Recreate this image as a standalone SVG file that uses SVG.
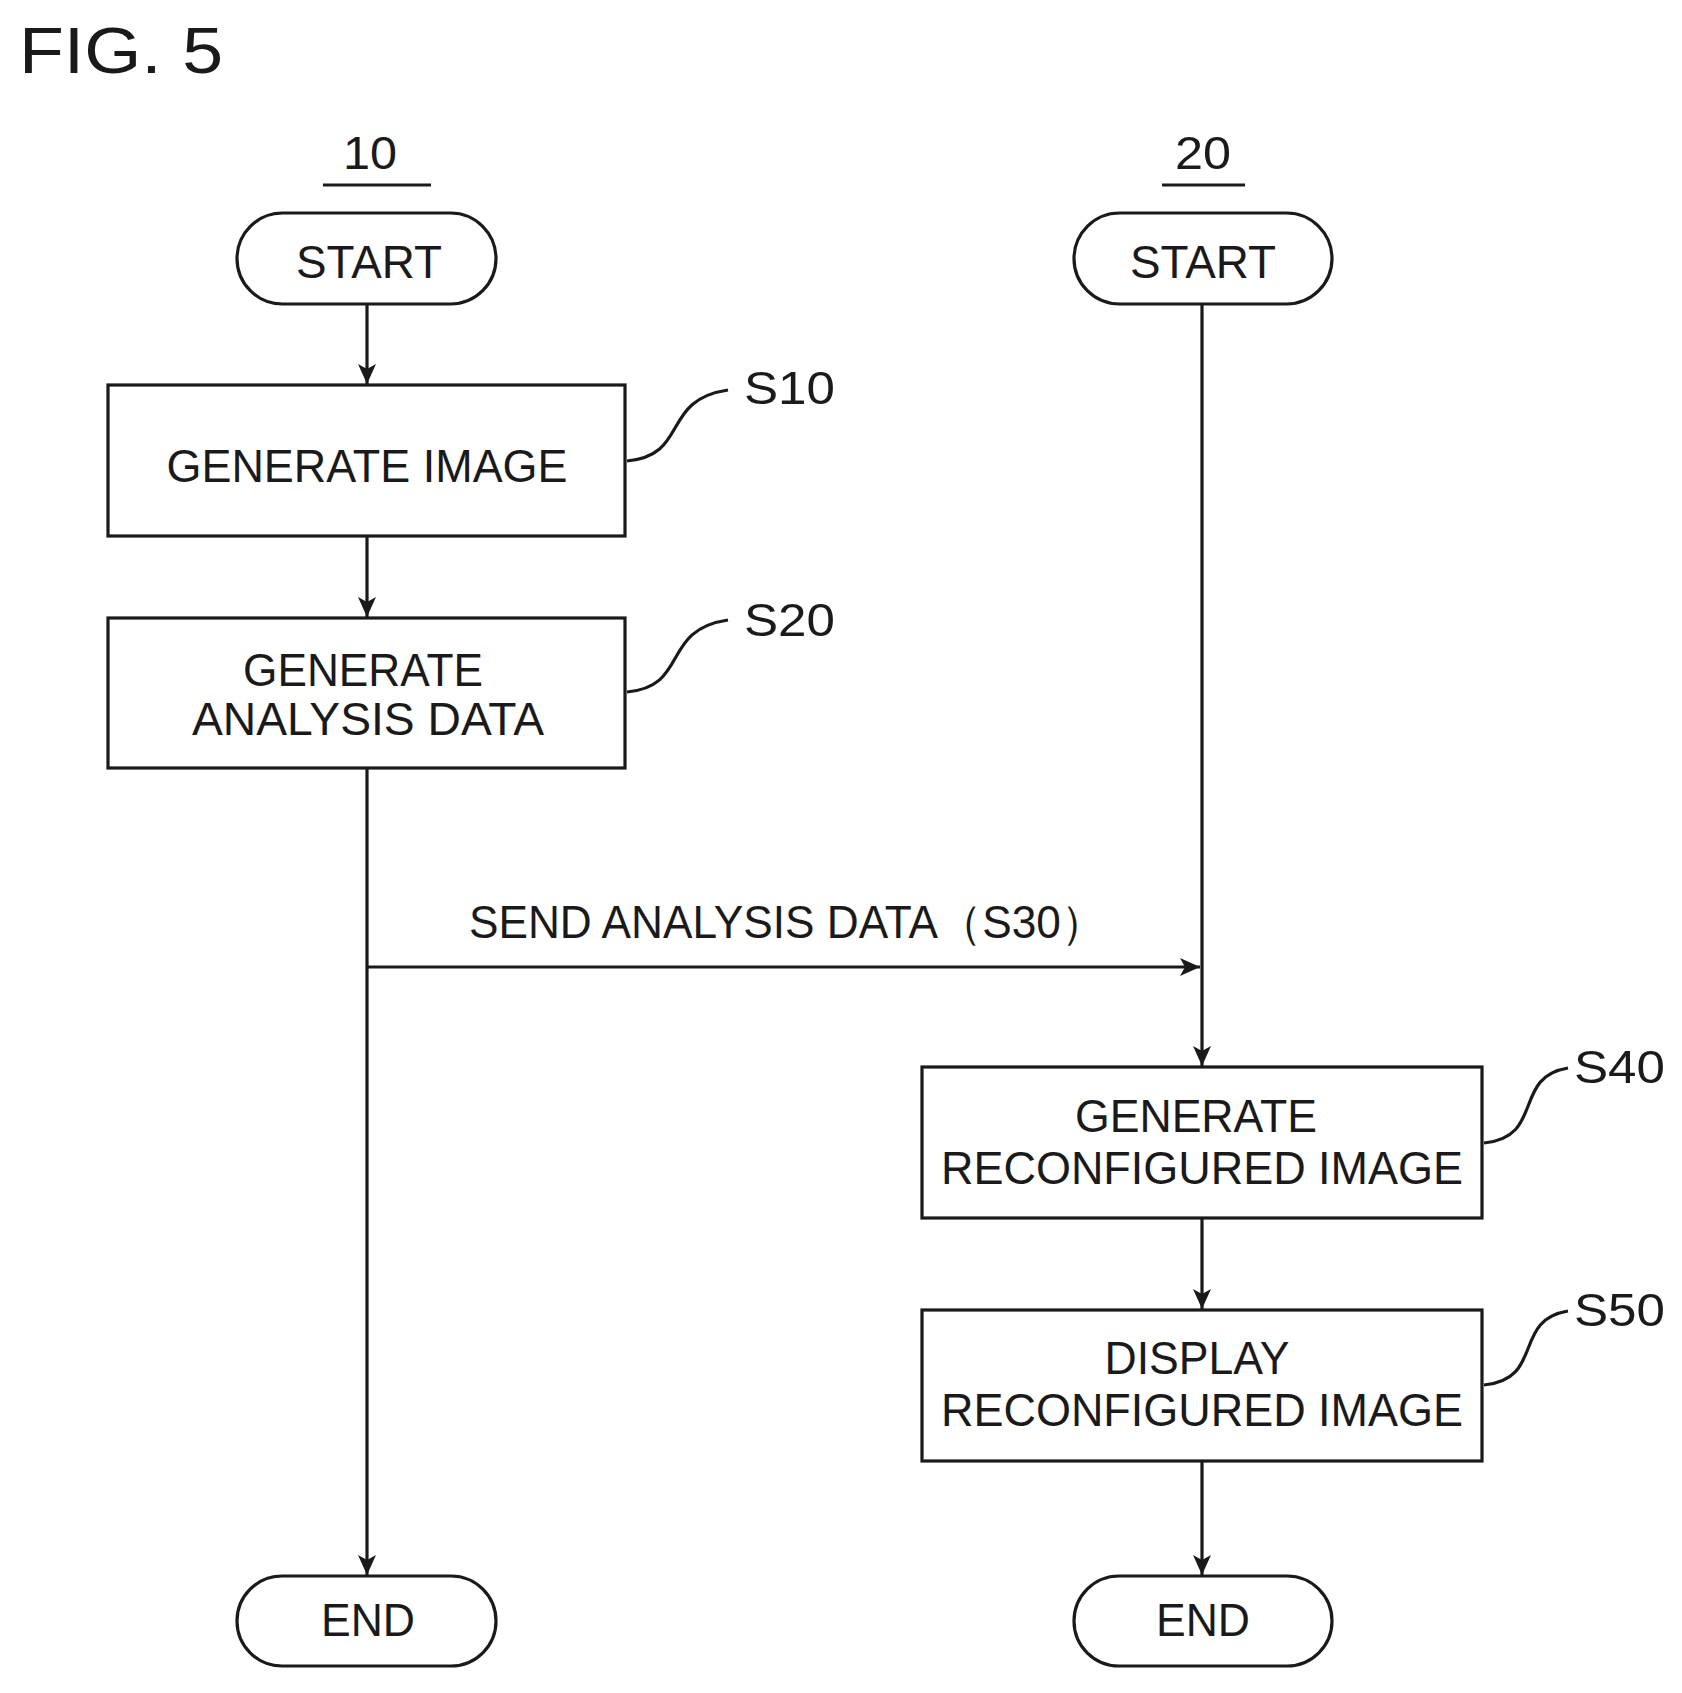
<svg xmlns="http://www.w3.org/2000/svg" width="1682" height="1693" viewBox="0 0 1682 1693">
<style>
.s{fill:none;stroke:#1a1a1a;stroke-width:3.2}
text{font-family:"Liberation Sans",Arial,sans-serif;fill:#1a1a1a;font-size:46px}
.c{text-anchor:middle}
.fig{font-size:64px}
</style>
<defs>
<marker id="a" markerUnits="userSpaceOnUse" markerWidth="24" markerHeight="24" refX="22" refY="12" orient="auto">
<path d="M2,3 L22,12 L2,21 L7,12 Z" fill="#1a1a1a"/>
</marker>
</defs>
<rect width="1682" height="1693" fill="#fff"/>
<text class="fig" x="19" y="73" textLength="204" lengthAdjust="spacingAndGlyphs">FIG. 5</text>
<g id="lbl10"><text class="c" x="370" y="169" textLength="54" lengthAdjust="spacingAndGlyphs">10</text><line class="s" x1="323" y1="185" x2="431" y2="185"/></g>
<g id="lbl20"><text class="c" x="1203" y="169" textLength="56" lengthAdjust="spacingAndGlyphs">20</text><line class="s" x1="1162" y1="185" x2="1245" y2="185"/></g>
<g id="start1"><rect class="s" x="237" y="213" width="259" height="91" rx="45.5"/><text class="c" x="369" y="278" textLength="146" lengthAdjust="spacingAndGlyphs">START</text></g>
<g id="start2"><rect class="s" x="1074" y="213" width="258" height="91" rx="45.5"/><text class="c" x="1203" y="278" textLength="146" lengthAdjust="spacingAndGlyphs">START</text></g>
<g id="s10"><rect class="s" x="108" y="385" width="517" height="151"/><text class="c" x="367" y="482" textLength="401" lengthAdjust="spacingAndGlyphs">GENERATE IMAGE</text>
<path class="s" d="M627,461 C690,455 660,400 728,390" stroke-width="2"/><text x="744" y="404" textLength="91" lengthAdjust="spacingAndGlyphs">S10</text></g>
<g id="s20"><rect class="s" x="108" y="618" width="517" height="150"/><text class="c" x="363" y="686" textLength="240" lengthAdjust="spacingAndGlyphs">GENERATE</text><text class="c" x="368" y="735" textLength="352" lengthAdjust="spacingAndGlyphs">ANALYSIS DATA</text>
<path class="s" d="M627,692 C690,686 660,630 728,620" stroke-width="2"/><text x="744" y="636" textLength="91" lengthAdjust="spacingAndGlyphs">S20</text></g>
<g id="s40"><rect class="s" x="922" y="1067" width="560" height="151"/><text class="c" x="1196" y="1132" textLength="242" lengthAdjust="spacingAndGlyphs">GENERATE</text><text class="c" x="1202" y="1184" textLength="522" lengthAdjust="spacingAndGlyphs">RECONFIGURED IMAGE</text>
<path class="s" d="M1484,1143 C1545,1137 1512,1077 1568,1068" stroke-width="2"/><text x="1574" y="1083" textLength="91" lengthAdjust="spacingAndGlyphs">S40</text></g>
<g id="s50"><rect class="s" x="922" y="1310" width="560" height="151"/><text class="c" x="1197" y="1374" textLength="185" lengthAdjust="spacingAndGlyphs">DISPLAY</text><text class="c" x="1202" y="1426" textLength="522" lengthAdjust="spacingAndGlyphs">RECONFIGURED IMAGE</text>
<path class="s" d="M1484,1385 C1545,1379 1512,1320 1568,1311" stroke-width="2"/><text x="1574" y="1326" textLength="91" lengthAdjust="spacingAndGlyphs">S50</text></g>
<g id="end1"><rect class="s" x="237" y="1576" width="259" height="90" rx="45"/><text class="c" x="368" y="1636" textLength="94" lengthAdjust="spacingAndGlyphs">END</text></g>
<g id="end2"><rect class="s" x="1074" y="1576" width="258" height="90" rx="45"/><text class="c" x="1203" y="1636" textLength="94" lengthAdjust="spacingAndGlyphs">END</text></g>
<g id="connectors">
<line class="s" x1="367" y1="304" x2="367" y2="384" marker-end="url(#a)"/>
<line class="s" x1="367" y1="536" x2="367" y2="617" marker-end="url(#a)"/>
<line class="s" x1="367" y1="768" x2="367" y2="1575" marker-end="url(#a)"/>
<line class="s" x1="367" y1="967" x2="1200" y2="967" marker-end="url(#a)"/>
<line class="s" x1="1202" y1="304" x2="1202" y2="1066" marker-end="url(#a)"/>
<line class="s" x1="1202" y1="1218" x2="1202" y2="1309" marker-end="url(#a)"/>
<line class="s" x1="1202" y1="1461" x2="1202" y2="1575" marker-end="url(#a)"/>
<text x="469" y="938" textLength="636" lengthAdjust="spacingAndGlyphs">SEND ANALYSIS DATA（S30）</text>
</g>
</svg>
